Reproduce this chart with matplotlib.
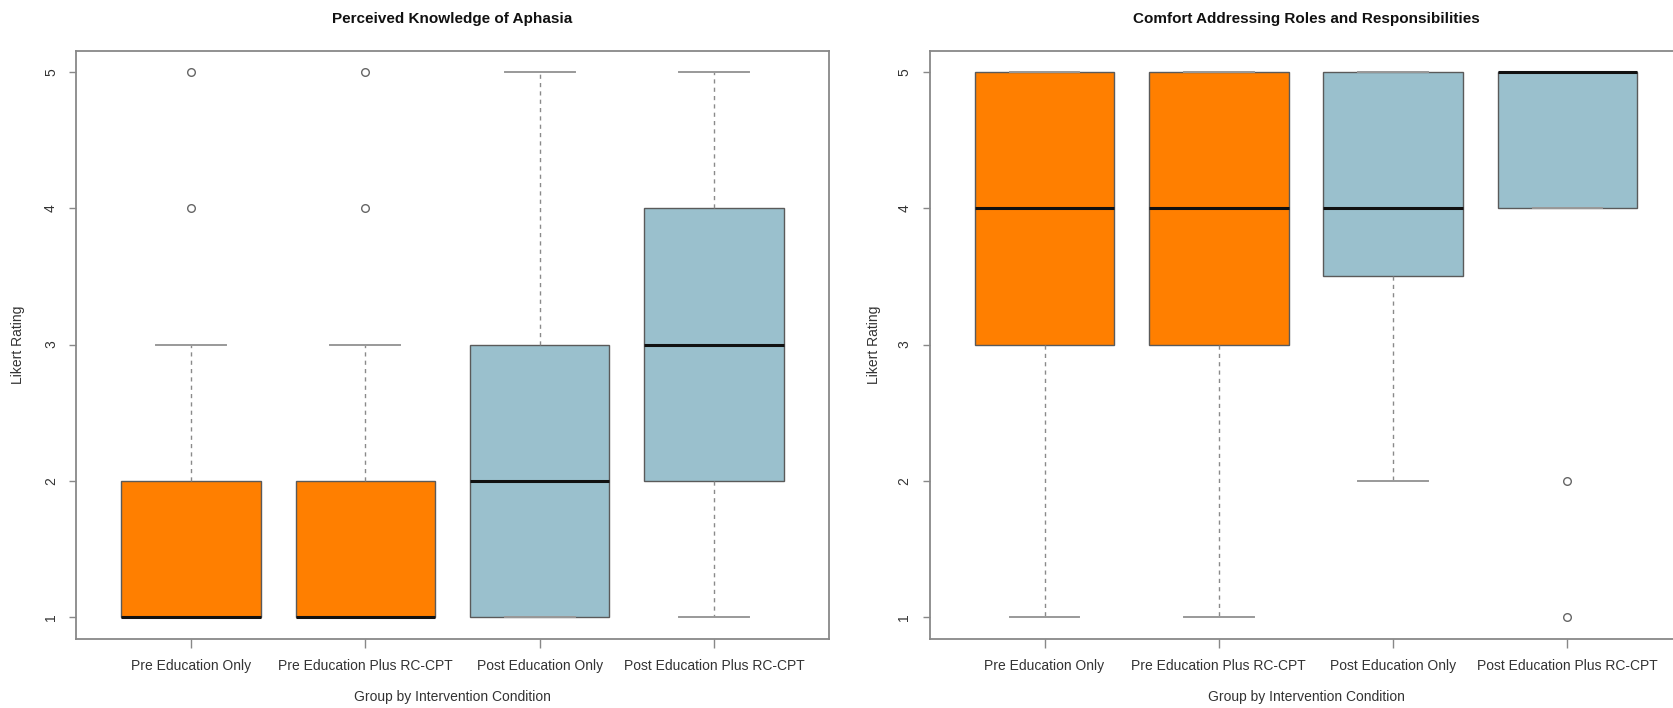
import matplotlib
matplotlib.use("Agg")
import matplotlib.pyplot as plt

plt.rcParams['font.family'] = ['Liberation Sans', 'DejaVu Sans']

categories = ["Pre Education Only", "Pre Education Plus RC-CPT",
              "Post Education Only", "Post Education Plus RC-CPT"]
box_colors = ["#FF7F00", "#FF7F00", "#9AC0CD", "#9AC0CD"]

# Panel 1: Perceived Knowledge of Aphasia
title1 = "Perceived Knowledge of Aphasia"
k_whislo = [1, 1, 1, 1]
k_q1 = [1, 1, 1, 2]
k_med = [1, 1, 2, 3]
k_q3 = [2, 2, 3, 4]
k_whishi = [3, 3, 5, 5]
k_fliers = [[4, 5], [4, 5], [], []]

# Panel 2: Comfort Addressing Roles and Responsibilities
title2 = "Comfort Addressing Roles and Responsibilities"
c_whislo = [1, 1, 2, 4]
c_q1 = [3, 3, 3.5, 4]
c_med = [4, 4, 4, 5]
c_q3 = [5, 5, 5, 5]
c_whishi = [5, 5, 5, 5]
c_fliers = [[], [], [], [1, 2]]

yticks = [1, 2, 3, 4, 5]
xlabel = "Group by Intervention Condition"
ylabel = "Likert Rating"

W, H = 1673, 708
fig = plt.figure(figsize=(W / 100, H / 100), dpi=100)

def make_axes(left_px):
    top_px, bottom_px, width_px = 50.5, 638.5, 753
    return fig.add_axes([left_px / W, (H - bottom_px) / H, width_px / W,
                         (bottom_px - top_px) / H])

def draw(ax, title, lo, q1, med, q3, hi, fl):
    stats = []
    for i in range(len(categories)):
        stats.append(dict(whislo=lo[i], q1=q1[i], med=med[i], q3=q3[i],
                          whishi=hi[i], fliers=fl[i], label=categories[i]))
    bp = ax.bxp(stats, positions=[1, 2, 3, 4], widths=0.8, capwidths=0.4,
                patch_artist=True, showfliers=True,
                boxprops=dict(edgecolor="#5a5a5a", linewidth=1.0),
                medianprops=dict(color="#111111", linewidth=2.2, solid_capstyle="butt"),
                whiskerprops=dict(color="#8a8a8a", linewidth=1.0, linestyle=(0, (3, 3))),
                capprops=dict(color="#999999", linewidth=1.4),
                flierprops=dict(marker="o", markerfacecolor="none",
                                markeredgecolor="#666666", markersize=5.5,
                                markeredgewidth=1.0))
    for patch, c in zip(bp["boxes"], box_colors):
        patch.set_facecolor(c)
    ax.set_xlim(0.34, 4.66)
    ax.set_ylim(0.84, 5.16)
    ax.set_yticks(yticks)
    ax.set_yticklabels([str(v) for v in yticks], rotation=90, va="center")
    ax.set_xticks([1, 2, 3, 4])
    ax.set_xticklabels(categories)
    ax.tick_params(axis="y", length=5, width=1.0, color="#888888", pad=8,
                   labelsize=10, labelcolor="#333333")
    ax.tick_params(axis="x", length=6.5, width=1.0, color="#888888", pad=8,
                   labelsize=10, labelcolor="#333333")
    for s in ax.spines.values():
        s.set_color("#888888")
        s.set_linewidth(1.3)
    ax.text(0.5, 1.0536, title, transform=ax.transAxes, ha="center",
            va="center", fontsize=11, fontweight="bold", color="#111111")

ax1 = make_axes(76)
draw(ax1, title1, k_whislo, k_q1, k_med, k_q3, k_whishi, k_fliers)
ax1.text(0.5, -0.0995, xlabel, transform=ax1.transAxes, ha="center",
         va="center", fontsize=10, color="#333333")
ax1.text((18 - 76) / 753, 0.5, ylabel, transform=ax1.transAxes, ha="center",
         va="center", rotation=90, fontsize=10, color="#333333")

ax2 = make_axes(929.5)
draw(ax2, title2, c_whislo, c_q1, c_med, c_q3, c_whishi, c_fliers)
ax2.text(0.5, -0.0995, xlabel, transform=ax2.transAxes, ha="center",
         va="center", fontsize=10, color="#333333")
ax2.text((874 - 929.5) / 753, 0.5, ylabel, transform=ax2.transAxes, ha="center",
         va="center", rotation=90, fontsize=10, color="#333333")

fig.savefig("out.png", dpi=100)
